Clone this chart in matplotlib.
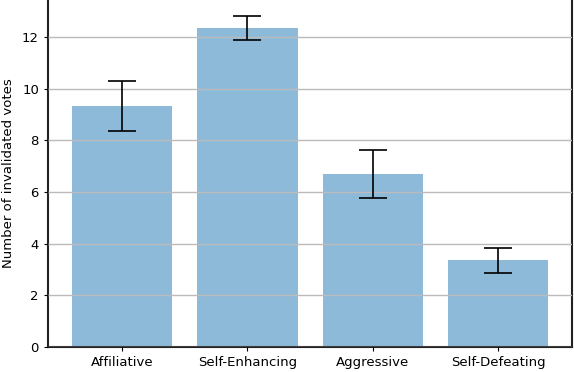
import matplotlib
matplotlib.use("Agg")
import matplotlib.pyplot as plt

categories = ["Affiliative", "Self-Enhancing", "Aggressive", "Self-Defeating"]
votes = [9.33, 12.35, 6.68, 3.36]
errors = [0.95, 0.47, 0.93, 0.48]

fig = plt.figure(figsize=(5.74, 3.72), dpi=100)
ax = fig.add_axes([0.0836, 0.067, 0.9134, 0.933])

x = range(len(categories))
ax.bar(x, votes, yerr=errors, width=0.8, color="tab:blue", alpha=0.5,
       capsize=10, error_kw=dict(ecolor="black", elinewidth=1.2, capthick=1.2, zorder=3))

ax.set_xticks(list(x))
ax.set_xticklabels(categories, fontsize=9.5)
ax.set_ylim(0, 13.43)
ax.set_yticks([0, 2, 4, 6, 8, 10, 12])
ax.tick_params(axis="y", labelsize=9.5)
ax.tick_params(length=3)
ax.set_ylabel("Number of invalidated votes", fontsize=9.5, labelpad=5)
ax.yaxis.grid(True, color="#bbbbbb", linewidth=1, zorder=2)
ax.set_axisbelow(False)
ax.spines["top"].set_visible(False)
for s in ["left", "right", "bottom"]:
    ax.spines[s].set_linewidth(1.5)
    ax.spines[s].set_color("#222222")

fig.savefig("out.png", dpi=100)
